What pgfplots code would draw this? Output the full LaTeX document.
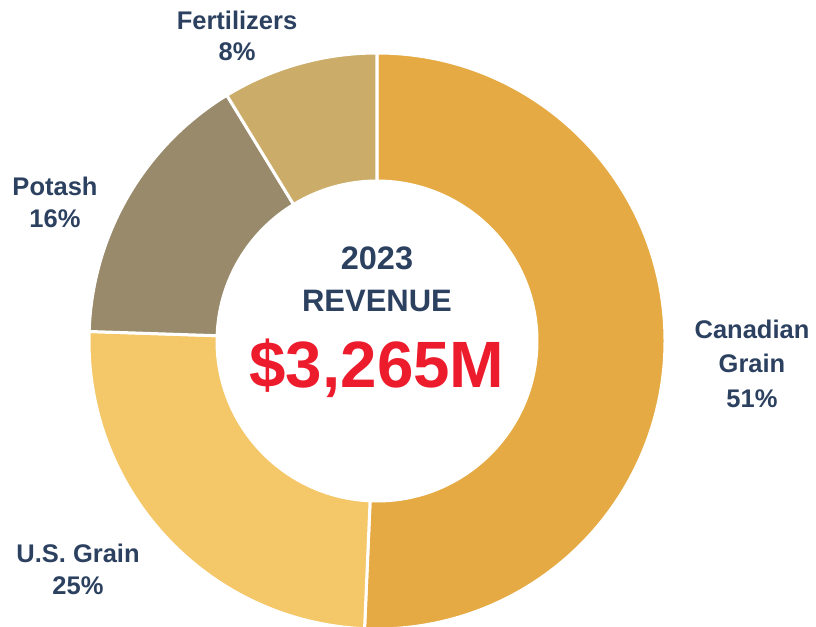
\documentclass[border=0pt]{standalone}
\usepackage{pgfplots}
\pgfplotsset{compat=1.18}
\usepackage{pgfplotstable}
\usepackage{fontspec}
\setmainfont{Liberation Sans}
\definecolor{cCan}{HTML}{E5AA43}
\definecolor{cUS}{HTML}{F4C768}
\definecolor{cPot}{HTML}{988A6A}
\definecolor{cFer}{HTML}{CBAC68}
\definecolor{navy}{HTML}{2C4160}
\definecolor{redc}{HTML}{EC1C2D}
\pgfplotstableread{
name value
Canadian 1655
US 811
Potash 514
Fertilizers 285
}\revdata
\newcommand{\lab}[1]{\fontsize{25.5bp}{30bp}\selectfont\bfseries\color{navy}#1}
\begin{document}
\begin{tikzpicture}
\begin{axis}[
  scale only axis, width=816bp, height=627bp,
  xmin=0, xmax=816, ymin=0, ymax=627,
  hide axis, clip=true,
]
\pgfplotsextra{
  \path (axis cs:0,0) rectangle (axis cs:816,627);
  \gdef\startang{90}
  \foreach \i/\col in {0/cCan,1/cUS,2/cPot,3/cFer}{
    \pgfplotstablegetelem{\i}{value}\of\revdata
    \pgfmathsetmacro{\sweep}{\pgfplotsretval/3265*360}
    \pgfmathsetmacro{\endang}{\startang-\sweep}
    \pgfmathsetmacro{\xa}{377+288*cos(\startang)}
    \pgfmathsetmacro{\ya}{286+288*sin(\startang)}
    \pgfmathsetmacro{\xb}{377+160*cos(\endang)}
    \pgfmathsetmacro{\yb}{286+160*sin(\endang)}
    \fill[\col, draw=white, line width=3bp, line join=miter]
      (axis cs:\xa,\ya) arc[start angle=\startang, end angle=\endang, radius=288bp]
      -- (axis cs:\xb,\yb) arc[start angle=\endang, end angle=\startang, radius=160bp]
      -- cycle;
    \xdef\startang{\endang}
  }
}
% center text
\node[anchor=base, text=navy, font=\fontsize{32.5bp}{36bp}\selectfont\bfseries] at (axis cs:377,357) {2023};
\node[anchor=base, text=navy, font=\fontsize{31bp}{36bp}\selectfont\bfseries] at (axis cs:377,315) {REVENUE};
\node[anchor=base, text=redc, font=\fontsize{65.5bp}{70bp}\selectfont\bfseries] at (axis cs:377,239) {\$3,265M};
% labels
\node[anchor=base, inner sep=0pt] at (axis cs:237,597) {\lab{Fertilizers}};
\node[anchor=base, inner sep=0pt] at (axis cs:237,566) {\lab{8\%}};
\node[anchor=base, inner sep=0pt] at (axis cs:55,431) {\lab{Potash}};
\node[anchor=base, inner sep=0pt] at (axis cs:55,399) {\lab{16\%}};
\node[anchor=base, inner sep=0pt] at (axis cs:752,288) {\lab{Canadian}};
\node[anchor=base, inner sep=0pt] at (axis cs:752,254) {\lab{Grain}};
\node[anchor=base, inner sep=0pt] at (axis cs:752,219) {\lab{51\%}};
\node[anchor=base, inner sep=0pt] at (axis cs:78,64) {\lab{U.S. Grain}};
\node[anchor=base, inner sep=0pt] at (axis cs:78,32) {\lab{25\%}};
\end{axis}
\end{tikzpicture}
\end{document}
